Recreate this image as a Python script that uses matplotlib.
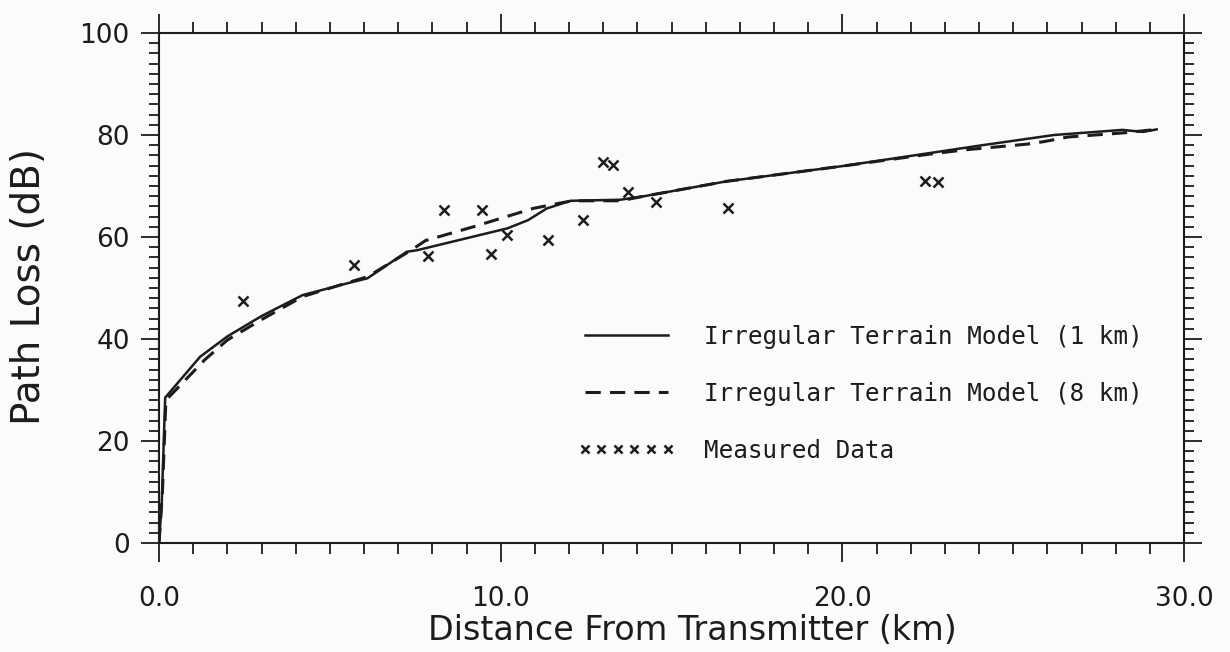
import numpy as np
import matplotlib
matplotlib.use("Agg")
import matplotlib.pyplot as plt
from matplotlib.ticker import MultipleLocator, FormatStrFormatter

# Irregular Terrain Model, 1 km terrain resolution
itm1_km = [0, 0.08, 0.18, 1.2, 2.0, 3.0, 4.2, 5.5, 6.1, 7.25, 7.55, 10.2, 10.8,
           11.35, 12.05, 13.5, 14.2, 16.6, 20.0, 22.5, 24.1, 26.2, 28.2, 28.8, 29.2]
itm1_db = [0, 8, 28.5, 36.5, 40.5, 44.5, 48.6, 50.9, 51.9, 57.1, 57.4, 61.7, 63.3,
           65.6, 67.1, 67.3, 68.0, 70.9, 73.9, 76.4, 78.0, 80.0, 81.0, 80.6, 81.1]

# Irregular Terrain Model, 8 km terrain resolution
itm8_km = [0, 0.1, 0.2, 1.35, 2.0, 3.0, 4.2, 5.5, 6.1, 7.4, 7.8, 9.2, 10.95, 11.7,
           12.1, 13.5, 14.2, 16.6, 20.0, 22.5, 23.6, 25.4, 25.9, 26.6, 28.2, 29.2]
itm8_db = [0, 10, 28, 36.0, 39.8, 43.8, 48.3, 51.0, 52.2, 57.5, 59.3, 62.0, 65.6, 66.6,
           67.1, 67.1, 68.0, 70.9, 73.9, 76.2, 77.1, 78.2, 78.7, 79.6, 80.4, 81.1]

# measured path loss
meas_km = [2.45, 5.71, 7.88, 8.35, 9.46, 9.71, 10.17, 11.39, 12.40, 12.98, 13.30,
           13.73, 14.56, 16.66, 22.42, 22.81]
meas_db = [47.5, 54.5, 56.3, 65.3, 65.2, 56.7, 60.4, 59.4, 63.3, 74.8, 74.1,
           68.9, 66.9, 65.6, 71.0, 70.7]

ink = "#1c1c1c"
paper = "#fbfbfb"

fig = plt.figure(figsize=(12.3, 6.52), dpi=100, facecolor=paper)
ax = fig.add_axes([0.1293, 0.1672, 0.8333, 0.7822], facecolor=paper)

ax.plot(itm1_km, itm1_db, color=ink, lw=1.8, label="Irregular Terrain Model (1 km)")
ax.plot(itm8_km, itm8_db, color=ink, lw=2.2, dashes=(5, 3),
        label="Irregular Terrain Model (8 km)")
ax.plot(meas_km, meas_db, ls="none", marker="x", ms=7, mew=1.8, color=ink,
        label="Measured Data")

ax.set_xlim(0, 30)
ax.set_ylim(0, 100)

ax.xaxis.set_major_locator(MultipleLocator(10))
ax.xaxis.set_minor_locator(MultipleLocator(1))
ax.yaxis.set_major_locator(MultipleLocator(20))
ax.yaxis.set_minor_locator(MultipleLocator(2))
ax.xaxis.set_major_formatter(FormatStrFormatter("%.1f"))

for s in ax.spines.values():
    s.set_linewidth(1.5)
    s.set_color(ink)

ax.tick_params(axis="x", which="both", direction="out", top=True, bottom=True,
               colors=ink, width=1.3, labelsize=19, pad=17)
ax.tick_params(axis="x", which="major", length=14)
ax.tick_params(axis="x", which="minor", length=8)
ax.tick_params(axis="y", which="both", direction="out", left=True, right=True,
               colors=ink, width=1.3, labelsize=19, pad=8)
ax.tick_params(axis="y", which="major", length=13)
ax.tick_params(axis="y", which="minor", length=7)

ax.set_xlabel("Distance From Transmitter (km)", fontsize=24, color=ink)
ax.set_ylabel("Path Loss (dB)", fontsize=28, color=ink)
ax.xaxis.set_label_coords(0.52, -0.14)
ax.yaxis.set_label_coords(-0.108, 0.502)

leg = ax.legend(loc="center left", bbox_to_anchor=(0.387, 0.293), frameon=False,
                numpoints=6, markerscale=0.75, handlelength=4.0, handletextpad=1.2,
                labelspacing=1.36, prop={"family": "DejaVu Sans Mono", "size": 17.5})
for t in leg.get_texts():
    t.set_color(ink)

fig.savefig("out.png", dpi=100, facecolor=paper)
